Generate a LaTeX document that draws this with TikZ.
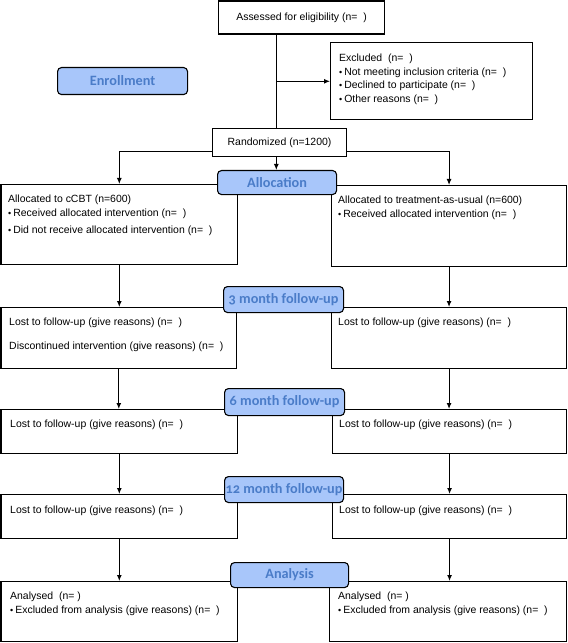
\documentclass[tikz,border=0pt]{standalone}
\usepackage{fontspec}
\setmainfont{Liberation Sans}
\newfontfamily\labfont[Numbers=OldStyle]{Carlito}
\usetikzlibrary{arrows.meta}
\definecolor{labfill}{RGB}{168,198,250}
\definecolor{labtext}{RGB}{74,124,200}
\newcommand\bul{{\fontsize{9}{9}\selectfont\textbullet}\hspace{2bp}}
\begin{document}
\begin{tikzpicture}[x=1bp,y=-1bp,
  box/.style={draw,line width=1.1bp,anchor=north west,inner sep=0pt},
  txt/.style={anchor=north west,align=left,inner sep=0pt,font=\fontsize{10.5}{14}\selectfont},
  phase/.style={draw,line width=1.1bp,rounded corners=4bp,fill=labfill,text=labtext,
    font=\labfont\bfseries\fontsize{14.3}{15}\selectfont,inner sep=0pt,anchor=north west},
  link/.style={line width=1.1bp,-{Latex[length=6bp,width=5bp]}}]
\useasboundingbox (0,0) rectangle (568,643);
\node[box,minimum width=166bp,minimum height=33bp,font=\fontsize{10.5}{14}\selectfont] (assess) at (218,0.5) {Assessed for eligibility (n=\ \ )};
\node[box,minimum width=202bp,minimum height=77bp] (excl) at (330,42) {};
\node[txt,font=\fontsize{10.5}{13.5}\selectfont] (exclt) at ([shift={(9bp,-12bp)}]excl.north west)
  {Excluded\ \ (n=\ \ )\\ \bul Not meeting inclusion criteria (n=\ \ )\\ \bul Declined to participate (n=\ \ )\\ \bul Other reasons (n=\ \ )};
\node[box,minimum width=134bp,minimum height=28bp,font=\fontsize{10.5}{14}\selectfont] (rand) at (212,128) {Randomized (n=1200)};
\node[box,minimum width=236.5bp,minimum height=80bp] (a1) at (0.5,184) {};
\node[txt] (a1t) at ([shift={(7.5bp,-11bp)}]a1.north west)
  {Allocated to cCBT (n=600)\\ \bul Received allocated intervention (n=\ \ )\\[3bp] \bul Did not receive allocated intervention (n=\ \ )};
\node[box,minimum width=235bp,minimum height=81bp] (a2) at (331,185) {};
\node[txt] (a2t) at ([shift={(7bp,-11bp)}]a2.north west)
  {Allocated to treatment-as-usual (n=600)\\ \bul Received allocated intervention (n=\ \ )};
\node[box,minimum width=235.5bp,minimum height=61bp] (f31) at (0.5,307) {};
\node[txt] (f31t) at ([shift={(8.5bp,-11bp)}]f31.north west)
  {Lost to follow-up (give reasons) (n=\ \ )\\[10bp] Discontinued intervention (give reasons) (n=\ \ )};
\node[box,minimum width=235bp,minimum height=61bp] (f32) at (331,307) {};
\node[txt] (f32t) at ([shift={(7bp,-11bp)}]f32.north west) {Lost to follow-up (give reasons) (n=\ \ )};
\node[box,minimum width=236.5bp,minimum height=44bp] (f61) at (0.5,409) {};
\node[txt] (f61t) at ([shift={(9.5bp,-11bp)}]f61.north west) {Lost to follow-up (give reasons) (n=\ \ )};
\node[box,minimum width=234bp,minimum height=44bp] (f62) at (332,409) {};
\node[txt] (f62t) at ([shift={(7bp,-11bp)}]f62.north west) {Lost to follow-up (give reasons) (n=\ \ )};
\node[box,minimum width=236.5bp,minimum height=44bp] (f121) at (0.5,494) {};
\node[txt] (f121t) at ([shift={(9.5bp,-12bp)}]f121.north west) {Lost to follow-up (give reasons) (n=\ \ )};
\node[box,minimum width=234bp,minimum height=44bp] (f122) at (332,494) {};
\node[txt] (f122t) at ([shift={(7bp,-12bp)}]f122.north west) {Lost to follow-up (give reasons) (n=\ \ )};
\node[box,minimum width=236.5bp,minimum height=60bp] (an1) at (0.5,581) {};
\node[txt] (an1t) at ([shift={(9.5bp,-11bp)}]an1.north west)
  {Analysed\ \ (n=\ )\\ \bul Excluded from analysis (give reasons) (n=\ \ )};
\node[box,minimum width=237bp,minimum height=60bp] (an2) at (329,581) {};
\node[txt] (an2t) at ([shift={(9bp,-11bp)}]an2.north west)
  {Analysed\ \ (n=\ )\\ \bul Excluded from analysis (give reasons) (n=\ \ )};
\coordinate (split) at (276.3,81.3);
\coordinate (alloctop) at (276.3,170);
\draw[line width=1.1bp] (split) -- (split |- assess.south);
\draw[line width=1.1bp] (split) -- (split |- rand.north);
\draw[link] (split) -- (split -| excl.west);
\draw[link] (rand.south -| split) -- (alloctop);
\draw[link] ([yshift=5.3bp]rand.south west) -| (a1.north);
\draw[link] ([yshift=5.3bp]rand.south east) -| (a2.north);
\foreach \u/\v in {a1/f31,f31/f61,f61/f121,f121/an1,a2/f32,f32/f62,f62/f122,f122/an2}
  \draw[link] (\u.south) -- (\u.south |- \v.north);
\node[phase,minimum width=130bp,minimum height=27bp] (enrol) at (57,67) {Enrollment};
\node[phase,minimum width=119bp,minimum height=24bp] (alloc) at (alloctop -| 217,0) {Allocation};
\node[phase,minimum width=120bp,minimum height=26bp] (fu3) at (223,286) {3 month follow-up};
\node[phase,minimum width=120bp,minimum height=27bp] (fu6) at (224,388) {6 month follow-up};
\node[phase,minimum width=119bp,minimum height=26bp] (fu12) at (224,476) {12 month follow-up};
\node[phase,minimum width=118bp,minimum height=25bp] (anal) at (230,562) {Analysis};
\end{tikzpicture}
\end{document}
